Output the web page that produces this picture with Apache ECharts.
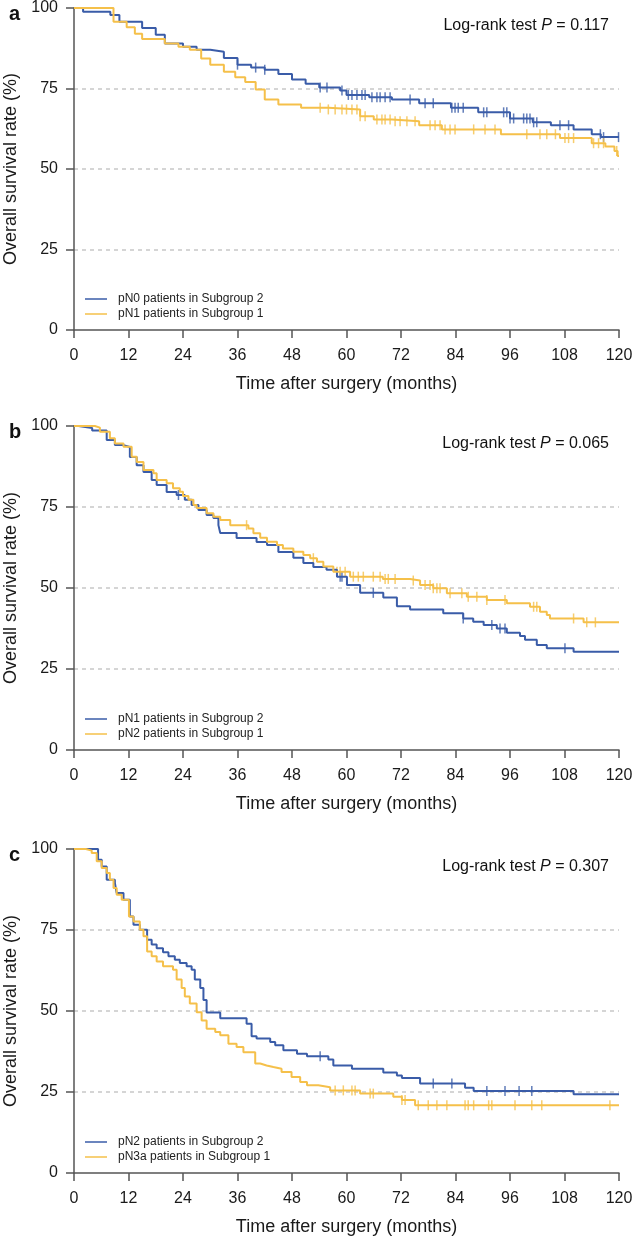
<!DOCTYPE html>
<html>
<head>
<meta charset="utf-8">
<script src="https://cdn.jsdelivr.net/npm/echarts@6/dist/echarts.min.js"></script>
<style>
  html, body { margin: 0; padding: 0; background: #fff; }
  #chart { width: 632px; height: 1239px; }
</style>
</head>
<body>
<div id="chart"></div>
<script>
// --- Data ---
var xTicks = [0, 12, 24, 36, 48, 60, 72, 84, 96, 108, 120];
var yTicks = [0, 25, 50, 75, 100];
var panelLetters = ['a', 'b', 'c'];
var pValues = ['0.117', '0.065', '0.307'];
var blueNames = ['pN0 patients in Subgroup 2', 'pN1 patients in Subgroup 2', 'pN2 patients in Subgroup 2'];
var yellowNames = ['pN1 patients in Subgroup 1', 'pN2 patients in Subgroup 1', 'pN3a patients in Subgroup 1'];

// panel a
var aBlueT = [0, 2, 8, 10, 15, 18, 20, 24, 27, 30, 33, 36, 39, 42, 45, 48, 51, 54, 58.6, 60, 65, 70, 76, 83, 89, 96, 101, 105, 110, 114, 116, 120];
var aBlueS = [100, 98.8, 97.8, 95.7, 93.8, 91.7, 89, 88, 87, 86.4, 84.5, 82.4, 81.5, 80.8, 79.5, 77.8, 76.5, 75.3, 74.4, 73, 72.3, 71.6, 70.4, 69, 67.6, 65.7, 64.5, 63.6, 62.3, 60.8, 59.9, 59.9];
var aYellowT = [0, 8.7, 11.6, 13.4, 15, 20, 23, 25.5, 28, 30, 33, 35.5, 37.7, 40, 42, 45, 50, 56, 63, 66, 70, 76, 81, 94, 107, 114, 117, 119, 119.7, 120];
var aYellowS = [100, 95.7, 94, 92, 90.4, 89, 88, 87, 84.3, 82.4, 80.2, 78.5, 77, 74.7, 71.6, 70, 69, 68.5, 66.4, 65.4, 64.8, 63.6, 62.3, 60.8, 59.6, 58, 57, 55.6, 54, 54];
var aBlueCens = [36, 40, 42, 54.2, 55.7, 59, 60.4, 61.2, 62.3, 63.4, 64.1, 65.6, 66.7, 67.4, 68.5, 69.6, 74, 77.3, 79.1, 83.2, 83.9, 84.6, 85.7, 90.2, 90.9, 94.6, 95.3, 96, 96.8, 99, 99.7, 100.4, 101.2, 101.9, 107, 108.9, 115.9, 116.6, 119.9];
var aYellowCens = [54.2, 56, 57.5, 59, 60, 61.2, 62.3, 63, 64.1, 66.7, 67.8, 68.5, 69.6, 70.7, 71.8, 73.3, 75.1, 78.4, 79.5, 80.6, 81.7, 82.8, 83.9, 88, 90.5, 92.7, 99.7, 102.6, 104.1, 106, 108.1, 108.9, 110, 114.4, 115.5, 116.6, 119.5];

// panel b
var bBlueT = [0, 1, 4, 7.2, 9, 10.9, 12.3, 13.8, 15.3, 17.1, 18.2, 20.4, 22.6, 24.4, 25.9, 27.4, 29.2, 30.7, 31.8, 32.2, 35.8, 40.2, 42.5, 45, 48.3, 50.5, 52.7, 55.6, 57.9, 60.1, 63, 68.1, 71.1, 74, 81.3, 85.7, 87.9, 90.2, 93.1, 95.3, 98.2, 99.3, 101.9, 104.1, 110, 120];
var bBlueS = [100, 99.4, 98.6, 95.7, 94.1, 93.5, 90.4, 87.9, 85.8, 83.3, 81.8, 79.6, 78.7, 77.2, 75.6, 74.1, 72.5, 71.6, 69.4, 67, 65.4, 64.2, 63.3, 61.1, 59.3, 57.7, 56.5, 55.6, 53.5, 50.9, 48.5, 47.1, 44.4, 43.4, 42.2, 40.6, 39.6, 38.6, 37.5, 36.2, 35.2, 34, 32.4, 31.4, 30.3, 30.3];
var bYellowT = [0, 4.6, 5.7, 7.9, 9, 10.9, 12.7, 13.8, 15.3, 17.5, 18.2, 20.4, 21.8, 23.3, 24, 25.2, 26.3, 27, 29.2, 30.7, 32.2, 34.4, 38.4, 39.5, 41, 42.5, 44.7, 46, 48.3, 50.5, 52, 53.5, 54.9, 57.1, 60.8, 68, 74, 76.2, 79.1, 82.1, 86.5, 90.9, 95.3, 100.4, 102.6, 104.1, 104.8, 112.2, 120];
var bYellowS = [100, 99.5, 98.2, 96.2, 94.6, 93.6, 90.5, 88.9, 86.4, 85.4, 83.3, 82.3, 80.8, 79.7, 78.4, 77.2, 75.6, 74.7, 73.1, 72, 71, 69.4, 68.4, 66.9, 65.5, 64.3, 63.3, 62.2, 61.2, 60.2, 59.2, 58.1, 56.6, 55, 53.5, 52.8, 52.3, 50.9, 49.9, 48.4, 47.3, 46.3, 45.3, 44.2, 42.7, 41.7, 40.6, 39.4, 39.4];
var bBlueCens = [23, 58.6, 59, 65.9, 85.7, 92, 93.8, 94.9, 108.1];
var bYellowCens = [38, 52.7, 57.9, 58.6, 59.7, 61.5, 62.6, 63.7, 65.9, 67.4, 68.5, 69.2, 70.7, 74.7, 77.3, 78.4, 79.1, 79.9, 80.6, 82.8, 85.4, 86.8, 88.7, 90.9, 94.9, 101.2, 101.9, 110, 112.9, 114.8];

// panel c
var cBlueT = [0, 5.3, 6.1, 7.2, 9, 9.4, 10.9, 12.3, 13.1, 14.5, 16.1, 17.1, 18.2, 19.6, 20.8, 22.2, 23.3, 24.8, 25.9, 26.6, 27.8, 28.5, 29.2, 32.2, 38, 39.1, 40.2, 43.2, 44.3, 46.1, 49.1, 51.3, 56, 57.1, 61.2, 68.1, 71.1, 72.2, 76.2, 86.1, 88, 110, 120];
var cBlueS = [100, 96.7, 94.6, 90.5, 89.5, 86.4, 84.3, 79.2, 76.6, 75.1, 72, 70.5, 69.4, 68.1, 66.9, 65.8, 64.8, 63.8, 62.7, 59.7, 57.1, 53.4, 49.5, 47.8, 46.1, 42.2, 41.5, 40.4, 39.4, 37.9, 36.8, 36, 35, 33.2, 32.2, 31, 30.1, 29.3, 27.6, 26.3, 25.3, 24.3, 24.3];
var cYellowT = [0, 2.6, 3.9, 5, 6.1, 7.2, 7.9, 8.7, 9.4, 10.5, 12.1, 13.1, 14.5, 15.3, 16.1, 17.1, 18.2, 19.6, 21.8, 22.6, 23.7, 24.4, 25.5, 27, 28.1, 29.2, 31.1, 32.2, 34, 35.8, 37.3, 39.9, 41, 42.4, 43.9, 45.7, 47.9, 49.8, 51.3, 53.8, 56.4, 63, 70.3, 72.2, 75.1, 120];
var cYellowS = [100, 99.5, 98.8, 96.2, 94.1, 92.6, 90.5, 88, 85.9, 84.3, 79.2, 77.6, 75.1, 73.1, 68.4, 66.9, 65.3, 63.8, 62.7, 59.7, 57.1, 54.5, 52.3, 49.6, 47.1, 44.5, 43.5, 42.5, 39.9, 38.9, 37.3, 33.8, 33.2, 32.7, 32.2, 31.2, 29.6, 28.1, 27.1, 26.5, 25.5, 24.5, 23.5, 22.5, 20.9, 20.9];
var cBlueCens = [54.2, 79.1, 83.2, 90.9, 94.9, 98, 100.8];
var cYellowCens = [57.5, 59.3, 61.2, 61.9, 65.2, 65.9, 72.2, 72.9, 75.8, 78, 79.9, 82.1, 86.1, 86.8, 88, 91.3, 92, 97.1, 100.8, 103, 118];

(function () {
  'use strict';

  var BLUE = '#3a5ca8';
  var YELLOW = '#f5c04a';
  var FONT = 'Liberation Sans, Arial, sans-serif';
  // top and bottom pixel of each plot area
  var gridTops = [8, 426, 849];
  var gridBottoms = [330, 750, 1173];

  var curves = [
    { bt: aBlueT, bs: aBlueS, yt: aYellowT, ys: aYellowS, bc: aBlueCens, yc: aYellowCens },
    { bt: bBlueT, bs: bBlueS, yt: bYellowT, ys: bYellowS, bc: bBlueCens, yc: bYellowCens },
    { bt: cBlueT, bs: cBlueS, yt: cYellowT, ys: cYellowS, bc: cBlueCens, yc: cYellowCens }
  ];

  function pairs(ts, ss) {
    return ts.map(function (t, i) { return [t, ss[i]]; });
  }

  // survival value of a step curve at time t
  function stepAt(ts, ss, t) {
    var v = ss[0];
    for (var i = 0; i < ts.length; i++) {
      if (ts[i] <= t) v = ss[i];
    }
    return v;
  }

  function censorData(ts, ss, cens) {
    return cens.map(function (t) { return [t, stepAt(ts, ss, t)]; });
  }

  var grids = [], xAxes = [], yAxes = [], series = [], legends = [], titles = [];

  gridTops.forEach(function (top, i) {
    var c = curves[i];
    var bottom = gridBottoms[i];
    grids.push({
      left: 74, right: 13, top: top, height: bottom - top,
      containLabel: false, outerBoundsMode: 'none'
    });

    xAxes.push({
      type: 'value', gridIndex: i, min: 0, max: 120, interval: 12,
      name: 'Time after surgery (months)', nameLocation: 'middle', nameGap: 45,
      nameTextStyle: { fontFamily: FONT, fontSize: 18, color: '#1a1a1a' },
      axisLine: { show: true, lineStyle: { color: '#555', width: 1.5 } },
      axisTick: { show: true, length: 8, lineStyle: { color: '#555', width: 1.5 } },
      axisLabel: { fontFamily: FONT, fontSize: 16, color: '#1a1a1a', margin: 18 },
      splitLine: { show: false }
    });

    yAxes.push({
      type: 'value', gridIndex: i, min: 0, max: 100, interval: 25,
      name: 'Overall survival rate (%)', nameLocation: 'middle', nameGap: 51,
      nameTextStyle: { fontFamily: FONT, fontSize: 18, color: '#1a1a1a' },
      axisLine: { show: true, lineStyle: { color: '#555', width: 1.5 } },
      axisTick: { show: true, length: 8, lineStyle: { color: '#555', width: 1.5 } },
      axisLabel: { fontFamily: FONT, fontSize: 16, color: '#1a1a1a', margin: 16 },
      splitLine: {
        show: true, showMinLine: false, showMaxLine: false,
        lineStyle: { color: '#c8c8c8', type: [4, 4], width: 1.5 }
      }
    });

    series.push({
      name: blueNames[i], type: 'line', step: 'end',
      xAxisIndex: i, yAxisIndex: i, data: pairs(c.bt, c.bs),
      showSymbol: false, symbol: 'none', animation: false,
      lineStyle: { color: BLUE, width: 2 }, itemStyle: { color: BLUE }
    });
    series.push({
      name: yellowNames[i], type: 'line', step: 'end',
      xAxisIndex: i, yAxisIndex: i, data: pairs(c.yt, c.ys),
      showSymbol: false, symbol: 'none', animation: false,
      lineStyle: { color: YELLOW, width: 2 }, itemStyle: { color: YELLOW }
    });
    series.push({
      type: 'scatter', xAxisIndex: i, yAxisIndex: i,
      data: censorData(c.bt, c.bs, c.bc),
      symbol: 'rect', symbolSize: [1.5, 10], animation: false,
      itemStyle: { color: BLUE }
    });
    series.push({
      type: 'scatter', xAxisIndex: i, yAxisIndex: i,
      data: censorData(c.yt, c.ys, c.yc),
      symbol: 'rect', symbolSize: [1.5, 10], animation: false,
      itemStyle: { color: YELLOW }
    });

    legends.push({
      orient: 'vertical', left: 80, top: bottom - 42,
      itemWidth: 22, itemHeight: 1.5, itemGap: 3, icon: 'rect',
      data: [blueNames[i], yellowNames[i]],
      textStyle: { fontFamily: FONT, fontSize: 12, color: '#222', padding: [0, 0, 0, 6] }
    });

    titles.push({
      text: panelLetters[i], left: 4, top: top - 9,
      textStyle: { fontFamily: FONT, fontSize: 20, fontWeight: 'bold', color: '#111' }
    });
    titles.push({
      text: '{n|Log-rank test }{i|P}{n| = ' + pValues[i] + '}',
      right: 18, top: top + 5,
      textStyle: {
        fontWeight: 'normal',
        rich: {
          n: { fontFamily: FONT, fontSize: 16, fontWeight: 'normal', color: '#111' },
          i: { fontFamily: FONT, fontSize: 16, fontWeight: 'normal', fontStyle: 'italic', color: '#111' }
        }
      }
    });
  });

  var chart = echarts.init(document.getElementById('chart'), null, { renderer: 'canvas' });
  chart.setOption({
    backgroundColor: '#fff',
    animation: false,
    title: titles,
    legend: legends,
    grid: grids,
    xAxis: xAxes,
    yAxis: yAxes,
    series: series
  });
})();
</script>
</body>
</html>
